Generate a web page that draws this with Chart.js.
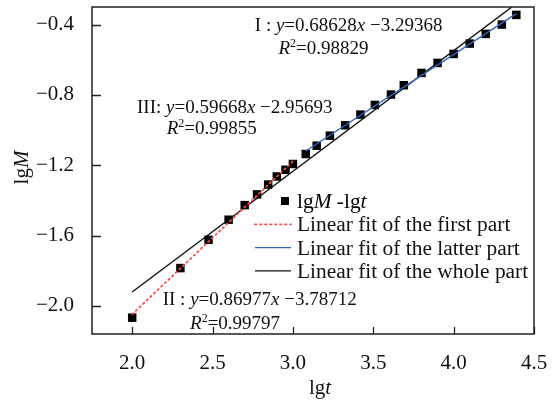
<!DOCTYPE html>
<html>
<head>
<meta charset="utf-8">
<script src="https://cdn.jsdelivr.net/npm/chart.js@4.4.1/dist/chart.umd.min.js"></script>
<style>
  html, body { margin: 0; padding: 0; background: #fff; }
  #wrap { width: 560px; height: 402px; position: relative; }
</style>
</head>
<body>
<div id="wrap"><canvas id="c"></canvas></div>
<script>
// Measured points: lg t against lg M
const lgT = [2.0, 2.30, 2.475, 2.60, 2.70, 2.777, 2.846, 2.90, 2.954, 3.0,
             3.08, 3.148, 3.23, 3.325, 3.42, 3.51, 3.61, 3.69, 3.80, 3.90,
             4.0, 4.10, 4.20, 4.30, 4.39];
const lgM = [-2.067, -1.785, -1.624, -1.51, -1.427, -1.366, -1.31, -1.264, -1.226, -1.193,
             -1.136, -1.089, -1.032, -0.973, -0.912, -0.857, -0.798, -0.745, -0.675, -0.618,
             -0.567, -0.508, -0.453, -0.400, -0.345];

// Linear fits: first part, latter part, whole part
const fitNames = ['Linear fit of the first part', 'Linear fit of the latter part', 'Linear fit of the whole part'];
const fitTags = ['II', 'III', 'I'];
const fitSlopes = [0.86977, 0.59668, 0.68628];
const fitIntercepts = [-3.78712, -2.95693, -3.29368];
const fitR2 = [0.99797, 0.99855, 0.98829];
const fitFrom = [2.0, 3.08, 2.0];
const fitTo = [3.0, 4.39, 4.45];

const xTicks = [2.0, 2.5, 3.0, 3.5, 4.0, 4.5];
const yTicks = [-2.0, -1.6, -1.2, -0.8, -0.4];

const SERIF = "'Liberation Serif', 'Times New Roman', serif";
const fitColors = ['#ff4a4a', '#3565bd', '#111111'];
const fitDash = [[1.5, 3.5], [], []];

function fitLine(i) {
  return [fitFrom[i], fitTo[i]].map(x => ({ x: x, y: fitSlopes[i] * x + fitIntercepts[i] }));
}

const datasets = [];
for (let i = 0; i < 3; i++) {
  datasets.push({
    type: 'line',
    label: fitNames[i],
    data: fitLine(i),
    borderColor: fitColors[i],
    borderWidth: i === 0 ? 1.8 : 1.4,
    borderDash: fitDash[i],
    borderCapStyle: i === 0 ? 'round' : 'butt',
    pointRadius: 0,
    fill: false,
    order: 0
  });
}
datasets.push({
  type: 'scatter',
  label: 'lgM -lgt',
  data: lgT.map((x, i) => ({ x: x, y: lgM[i] })),
  pointStyle: 'rect',
  pointRadius: 6,
  pointBorderWidth: 0,
  backgroundColor: '#000',
  borderColor: '#000',
  order: 5
});

function fmtTick(v) {
  const s = Math.abs(v).toFixed(1);
  return v < 0 ? '\u2212' + s : s;
}

// Draw a run of text pieces [text, italic, superscript], stretched horizontally by sx
function drawRich(ctx, parts, x, y, size, sx) {
  sx = sx || 1;
  ctx.save();
  ctx.translate(x, y);
  ctx.scale(sx, 1);
  let cx = 0;
  ctx.textBaseline = 'alphabetic';
  ctx.textAlign = 'left';
  for (const [txt, it, sup] of parts) {
    const sz = sup ? Math.round(size * 0.62) : size;
    ctx.font = (it ? 'italic ' : '') + sz + 'px ' + SERIF;
    ctx.fillText(txt, cx, sup ? -size * 0.36 : 0);
    cx += ctx.measureText(txt).width;
  }
  ctx.restore();
  return cx * sx;
}
function richWidth(ctx, parts, size, sx) {
  let w = 0;
  for (const [txt, it, sup] of parts) {
    const sz = sup ? Math.round(size * 0.62) : size;
    ctx.font = (it ? 'italic ' : '') + sz + 'px ' + SERIF;
    w += ctx.measureText(txt).width;
  }
  return w * (sx || 1);
}

// Equation label anchors in data coordinates (left edge, baseline)
const eqAnchors = [
  { eq: [2.19, -1.995], r2: [2.36, -2.13] },
  { eq: [2.03, -0.905], r2: [2.215, -1.02] },
  { eq: [2.763, -0.435], r2: [2.91, -0.565] }
];

const framePlugin = {
  id: 'frame',
  afterDatasetsDraw(chart) {
    const { ctx, chartArea: a, scales } = chart;
    ctx.save();
    ctx.strokeStyle = '#222';
    ctx.lineWidth = 1.5;
    ctx.strokeRect(a.left, a.top, a.right - a.left, a.bottom - a.top);
    ctx.lineWidth = 1.3;
    ctx.beginPath();
    for (const t of scales.x.ticks) {
      const px = Math.round(scales.x.getPixelForValue(t.value)) + 0.5;
      ctx.moveTo(px, a.bottom);
      ctx.lineTo(px, a.bottom - 7);
    }
    for (const t of scales.y.ticks) {
      const py = Math.round(scales.y.getPixelForValue(t.value)) + 0.5;
      ctx.moveTo(a.left, py);
      ctx.lineTo(a.left + 9, py);
    }
    ctx.stroke();

    // equations
    ctx.fillStyle = '#111';
    const fs = 20, eqSize = 19;
    for (let i = 0; i < 3; i++) {
      const an = eqAnchors[i];
      const ex = scales.x.getPixelForValue(an.eq[0]);
      const ey = scales.y.getPixelForValue(an.eq[1]);
      const sign = fitIntercepts[i] < 0 ? ' \u2212' : ' +';
      drawRich(ctx, [
        [fitTags[i] + (fitTags[i] === 'III' ? ': ' : ' : '), false, false],
        ['y', true, false],
        ['=' + fitSlopes[i].toFixed(5), false, false],
        ['x', true, false],
        [sign + Math.abs(fitIntercepts[i]).toFixed(5), false, false]
      ], ex, ey, eqSize);
      const rx = scales.x.getPixelForValue(an.r2[0]);
      const ry = scales.y.getPixelForValue(an.r2[1]);
      drawRich(ctx, [
        ['R', true, false],
        ['2', false, true],
        ['=' + fitR2[i].toFixed(5), false, false]
      ], rx, ry, eqSize);
    }

    // legend
    const lx = a.left + 163, ly = a.top + 194, row = 23.3, lgStretch = 1.07;
    ctx.fillStyle = '#000';
    ctx.fillRect(lx + 26, ly - 4, 8, 8);
    drawRich(ctx, [['lg', false, false], ['M', true, false], [' -lg', false, false], ['t', true, false]],
      lx + 42, ly + 7, fs, lgStretch);
    for (let i = 0; i < 3; i++) {
      const y = ly + row * (i + 1);
      ctx.save();
      ctx.strokeStyle = fitColors[i];
      ctx.lineWidth = i === 0 ? 1.8 : 1.4;
      ctx.setLineDash(fitDash[i]);
      ctx.lineCap = i === 0 ? 'round' : 'butt';
      ctx.beginPath();
      ctx.moveTo(lx, y);
      ctx.lineTo(lx + 36, y);
      ctx.stroke();
      ctx.restore();
      ctx.fillStyle = '#111';
      drawRich(ctx, [[fitNames[i], false, false]], lx + 42, y + 7, fs, lgStretch);
    }

    // axis titles
    const tx = (a.left + a.right) / 2 + 7;
    const parts = [['lg', false, false], ['t', true, false]];
    drawRich(ctx, parts, tx - richWidth(ctx, parts, 21) / 2, 394, 21);
    ctx.save();
    ctx.translate(28, (a.top + a.bottom) / 2 - 3);
    ctx.rotate(-Math.PI / 2);
    const pm = [['lg', false, false], ['M', true, false]];
    drawRich(ctx, pm, -richWidth(ctx, pm, 21) / 2, 0, 21);
    ctx.restore();
    ctx.restore();
  }
};

new Chart(document.getElementById('c'), {
  type: 'scatter',
  data: { datasets: datasets },
  options: {
    responsive: true,
    maintainAspectRatio: false,
    animation: false,
    layout: { padding: { left: 0, top: 7, right: 26, bottom: 0 } },
    plugins: { legend: { display: false }, tooltip: { enabled: false } },
    scales: {
      x: {
        type: 'linear',
        min: 1.75, max: 4.5,
        afterBuildTicks: s => { s.ticks = xTicks.map(v => ({ value: v })); },
        afterFit: s => { s.height = 68; s.paddingLeft = 0; s.paddingRight = 0; },
        grid: { display: false },
        border: { display: false },
        ticks: { callback: v => fmtTick(v), color: '#111', padding: 9,
                 font: { family: SERIF, size: 21 }, maxRotation: 0 }
      },
      y: {
        type: 'linear',
        min: -2.16, max: -0.30,
        afterBuildTicks: s => { s.ticks = yTicks.map(v => ({ value: v })); },
        afterFit: s => { s.width = 92; s.paddingTop = 0; s.paddingBottom = 0; },
        grid: { display: false },
        border: { display: false },
        ticks: { callback: v => fmtTick(v), color: '#111', padding: 10,
                 font: { family: SERIF, size: 21 } }
      }
    }
  },
  plugins: [framePlugin]
});
</script>
</body>
</html>
